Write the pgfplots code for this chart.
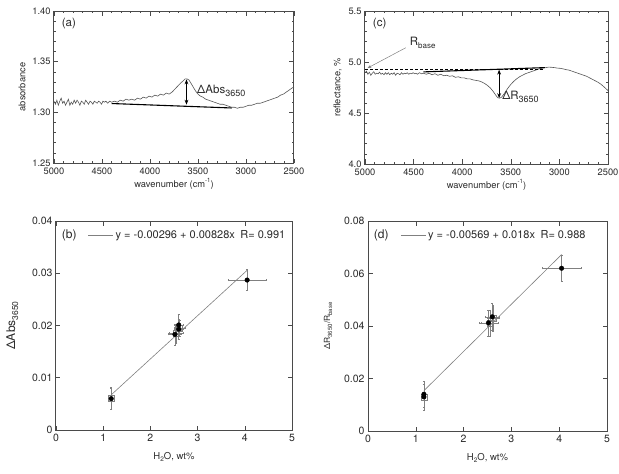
\documentclass[border=0pt]{standalone}
\usepackage{pgfplots}
\pgfplotsset{compat=1.18}
\usepackage{fontspec}
\setmainfont{TeX Gyre Heros}
\usetikzlibrary{arrows.meta}
\definecolor{txt}{HTML}{2a2a2a}
\definecolor{ax}{HTML}{4a4a4a}
\definecolor{crv}{HTML}{555555}
\newcommand\sub[2]{\raisebox{-0.45ex}{\fontsize{#1}{#1}\selectfont #2}}
\pgfplotsset{
  base/.style={
    scale only axis,
    anchor=north west,
    axis line style={ax, line width=1pt},
    tick style={ax, line width=0.6pt},
    tick align=inside,
    major tick length=4.5pt,
    minor tick length=2.2pt,
    every tick label/.append style={text=txt},
    label style={font=\fontsize{9.3}{10}\selectfont, text=txt},
    /pgf/number format/assume math mode=true,
    scaled y ticks=false,
    clip=false,
  },
  spec/.style={
    base,
    every tick label/.append style={font=\fontsize{9.3}{10}\selectfont},
    x dir=reverse,
    xmin=2500, xmax=5000,
    xtick={2500,3000,3500,4000,4500,5000},
    minor x tick num=4,
    minor y tick num=4,
    xticklabel style={/pgf/number format/1000 sep={}, yshift=-1.5pt},
    xlabel={wavenumber (cm\raisebox{0.9ex}{\fontsize{6}{6}\selectfont -1})},
    xlabel style={yshift=3pt},
  },
  corr/.style={
    base,
    every tick label/.append style={font=\fontsize{10.5}{11}\selectfont},
    xmin=0, xmax=5,
    xtick={0,1,2,3,4,5},
    xticklabel style={yshift=-1pt},
    xlabel={H\sub{6.5}{2}O, wt\%},
    xlabel style={yshift=-3pt, font=\fontsize{9.5}{10}\selectfont},
    every axis legend/.append style={draw=none, fill=none, font=\fontsize{11}{12}\selectfont, text=txt, inner sep=0pt},
    legend image code/.code={\draw[#1] (0pt,0pt) -- (25pt,0pt);},
  },
}
\begin{document}
\begin{tikzpicture}
\useasboundingbox (0,0) rectangle (619pt,-474pt);
% ---------------- (a)
\begin{axis}[spec, at={(54pt,-11pt)}, width=240pt, height=152pt,
  ymin=1.25, ymax=1.40, ytick={1.25,1.30,1.35,1.40},
  yticklabel style={/pgf/number format/fixed, /pgf/number format/fixed zerofill, /pgf/number format/precision=2},
  ylabel={absorbance}]
\addplot[crv, line width=0.6pt] coordinates {
(5000,1.311)(4985,1.308)(4970,1.312)(4955,1.307)(4940,1.311)(4925,1.314)(4910,1.309)(4895,1.311)(4880,1.307)(4865,1.310)(4850,1.313)(4835,1.307)(4820,1.310)(4805,1.308)(4790,1.312)(4775,1.309)(4760,1.312)(4745,1.310)(4730,1.307)(4715,1.311)(4700,1.310)(4685,1.308)(4670,1.312)(4655,1.310)(4640,1.308)(4625,1.311)(4610,1.310)(4595,1.308)(4580,1.311)(4565,1.310)(4550,1.309)(4535,1.311)(4520,1.310)(4505,1.308)(4490,1.311)(4475,1.310)(4460,1.311)(4440,1.309)(4420,1.311)(4400,1.310)(4370,1.311)(4340,1.310)(4310,1.312)(4280,1.311)(4250,1.313)(4220,1.312)(4190,1.313)(4160,1.312)(4130,1.314)(4100,1.313)(4070,1.315)(4040,1.314)(4010,1.316)(3980,1.315)(3950,1.317)(3920,1.316)(3890,1.318)(3860,1.317)(3830,1.319)(3800,1.318)(3770,1.320)(3740,1.323)(3710,1.326)(3680,1.329)(3655,1.331)(3635,1.333)(3615,1.333)(3595,1.332)(3575,1.329)(3550,1.325)(3525,1.321)(3500,1.318)(3475,1.316)(3450,1.315)(3420,1.313)(3390,1.312)(3360,1.311)(3330,1.310)(3300,1.309)(3270,1.308)(3240,1.308)(3210,1.307)(3180,1.306)(3150,1.305)(3120,1.305)(3090,1.304)(3060,1.305)(3030,1.305)(3000,1.306)(2970,1.307)(2940,1.307)(2910,1.308)(2880,1.309)(2850,1.309)(2820,1.310)(2790,1.311)(2760,1.312)(2730,1.313)(2700,1.314)(2670,1.315)(2640,1.317)(2610,1.318)(2580,1.320)(2550,1.322)(2520,1.324)(2500,1.325)};
\addplot[black, line width=1.1pt] coordinates {(4400,1.3087)(3150,1.3043)};
\draw[black, line width=0.9pt, {Stealth[length=5pt]}-{Stealth[length=5pt]}] (axis cs:3620,1.3075) -- (axis cs:3620,1.3325);
\node[anchor=west, font=\fontsize{11.5}{12}\selectfont, text=txt, inner sep=0pt] at (axis cs:3510,1.3215) {ΔAbs\sub{9}{3650}};
\node[anchor=west, font=\fontsize{11.5}{12}\selectfont, text=txt, inner sep=0pt] at (axis cs:4920,1.388) {(a)};
\end{axis}
% ---------------- (c)
\begin{axis}[spec, at={(365pt,-11pt)}, width=243pt, height=153pt,
  ymin=4.0, ymax=5.5, ytick={4.0,4.5,5.0,5.5},
  yticklabel style={/pgf/number format/fixed, /pgf/number format/fixed zerofill, /pgf/number format/precision=1},
  ylabel={reflectance, \%}]
\addplot[crv, line width=0.6pt] coordinates {
(5000,4.895)(4985,4.910)(4970,4.880)(4955,4.900)(4940,4.870)(4925,4.890)(4910,4.905)(4895,4.880)(4880,4.890)(4865,4.885)(4850,4.900)(4835,4.880)(4820,4.890)(4805,4.875)(4790,4.895)(4775,4.880)(4760,4.895)(4745,4.875)(4730,4.890)(4715,4.880)(4700,4.895)(4685,4.870)(4670,4.890)(4655,4.885)(4640,4.875)(4625,4.895)(4610,4.880)(4595,4.890)(4580,4.885)(4565,4.895)(4550,4.880)(4535,4.890)(4520,4.885)(4505,4.895)(4490,4.885)(4475,4.890)(4460,4.880)(4440,4.895)(4420,4.885)(4400,4.890)(4370,4.880)(4340,4.890)(4310,4.875)(4280,4.885)(4250,4.870)(4220,4.880)(4190,4.865)(4160,4.870)(4130,4.860)(4100,4.865)(4070,4.850)(4040,4.855)(4010,4.845)(3980,4.845)(3950,4.835)(3920,4.835)(3890,4.825)(3860,4.820)(3830,4.815)(3800,4.805)(3770,4.790)(3740,4.770)(3710,4.745)(3680,4.710)(3655,4.675)(3635,4.650)(3615,4.645)(3595,4.655)(3575,4.680)(3550,4.715)(3525,4.750)(3500,4.780)(3470,4.810)(3440,4.835)(3410,4.855)(3380,4.870)(3350,4.885)(3320,4.895)(3290,4.905)(3260,4.915)(3230,4.925)(3200,4.935)(3170,4.940)(3140,4.945)(3110,4.950)(3080,4.948)(3050,4.945)(3020,4.940)(2990,4.938)(2960,4.932)(2930,4.925)(2900,4.920)(2870,4.910)(2840,4.900)(2810,4.890)(2780,4.880)(2750,4.870)(2720,4.860)(2690,4.845)(2660,4.830)(2630,4.815)(2600,4.800)(2570,4.780)(2540,4.755)(2500,4.720)};
\addplot[black, line width=0.6pt, densely dashed] coordinates {(5000,4.928)(3150,4.928)};
\addplot[black, line width=1.1pt] coordinates {(4400,4.903)(3150,4.945)};
\draw[black, line width=0.9pt, {Stealth[length=5pt]}-{Stealth[length=5pt]}] (axis cs:3620,4.925) -- (axis cs:3620,4.645);
\node[anchor=west, font=\fontsize{11.5}{12}\selectfont, text=txt, inner sep=0pt] at (axis cs:3590,4.66) {ΔR\sub{9}{3650}};
\draw[gray, line width=0.5pt, -{Stealth[length=4pt]}] (axis cs:4580,5.14) -- (axis cs:4975,4.94);
\node[anchor=west, font=\fontsize{11.5}{12}\selectfont, text=txt, inner sep=0pt] at (axis cs:4540,5.19) {R\sub{8}{base}};
\node[anchor=west, font=\fontsize{11.5}{12}\selectfont, text=txt, inner sep=0pt] at (axis cs:4920,5.38) {(c)};
\end{axis}
% ---------------- (b)
\begin{axis}[corr, at={(56pt,-221pt)}, width=236pt, height=209pt,
  ymin=0, ymax=0.04, ytick={0,0.01,0.02,0.03,0.04},
  yticklabel style={/pgf/number format/fixed, /pgf/number format/precision=2},
  ylabel={ΔAbs\sub{8.5}{3650}},
  ylabel style={font=\fontsize{12}{13}\selectfont, yshift=7pt},
  legend style={at={(0.135,0.965)}, anchor=north west}]
\addplot[gray, line width=0.6pt] coordinates {(1.17,0.00673)(4.05,0.03057)};
\addlegendentry{y = -0.00296 + 0.00828x\enspace R= 0.991}
\addplot[only marks, mark=square, mark size=3pt, gray, mark options={line width=0.5pt},
  error bars/.cd, x dir=both, x explicit, y dir=both, y explicit,
  error bar style={gray, line width=0.4pt}, error mark options={gray, mark size=1pt, rotate=90}]
  coordinates {(1.17,0.0060) +- (0.03,0.0021) (2.55,0.0185) +- (0.15,0.0018) (2.62,0.0195) +- (0.12,0.0016)};
\addplot[only marks, mark=*, mark size=2.3pt, black,
  error bars/.cd, x dir=both, x explicit, y dir=both, y explicit,
  error bar style={gray, line width=0.5pt}, error mark options={gray, mark size=1pt, rotate=90}]
  coordinates {(1.17,0.0060) +- (0.02,0.0020) (2.52,0.0183) +- (0.14,0.0020) (2.60,0.0193) +- (0.10,0.0020) (2.60,0.0201) +- (0.10,0.0020) (4.05,0.0287) +- (0.40,0.0020)};
\node[anchor=west, font=\fontsize{12}{13}\selectfont, text=txt, inner sep=0pt] at (axis cs:0.12,0.0373) {(b)};
\end{axis}
% ---------------- (d)
\begin{axis}[corr, at={(368pt,-221pt)}, width=239pt, height=210pt,
  ymin=0, ymax=0.08, ytick={0,0.02,0.04,0.06,0.08},
  yticklabel style={/pgf/number format/fixed, /pgf/number format/precision=2},
  ylabel={ΔR\sub{6}{3650}/R\sub{6}{base}},
  ylabel style={font=\fontsize{8.5}{9}\selectfont, yshift=5pt},
  legend style={at={(0.135,0.965)}, anchor=north west}]
\addplot[gray, line width=0.6pt] coordinates {(1.17,0.01537)(4.05,0.06721)};
\addlegendentry{y = -0.00569 + 0.018x\enspace R= 0.988}
\addplot[only marks, mark=square, mark size=3pt, gray, mark options={line width=0.5pt},
  error bars/.cd, x dir=both, x explicit, y dir=both, y explicit,
  error bar style={gray, line width=0.4pt}, error mark options={gray, mark size=1pt, rotate=90}]
  coordinates {(1.17,0.0130) +- (0.03,0.0050) (2.55,0.0410) +- (0.18,0.0050) (2.62,0.0430) +- (0.12,0.0050)};
\addplot[only marks, mark=*, mark size=2.3pt, black,
  error bars/.cd, x dir=both, x explicit, y dir=both, y explicit,
  error bar style={gray, line width=0.5pt}, error mark options={gray, mark size=1pt, rotate=90}]
  coordinates {(1.17,0.0140) +- (0.02,0.0050) (1.17,0.0130) +- (0.02,0.0050) (2.52,0.0412) +- (0.20,0.0050) (2.60,0.0435) +- (0.15,0.0050) (4.05,0.0620) +- (0.40,0.0050)};
\node[anchor=west, font=\fontsize{12}{13}\selectfont, text=txt, inner sep=0pt] at (axis cs:0.12,0.0746) {(d)};
\end{axis}
\end{tikzpicture}
\end{document}
